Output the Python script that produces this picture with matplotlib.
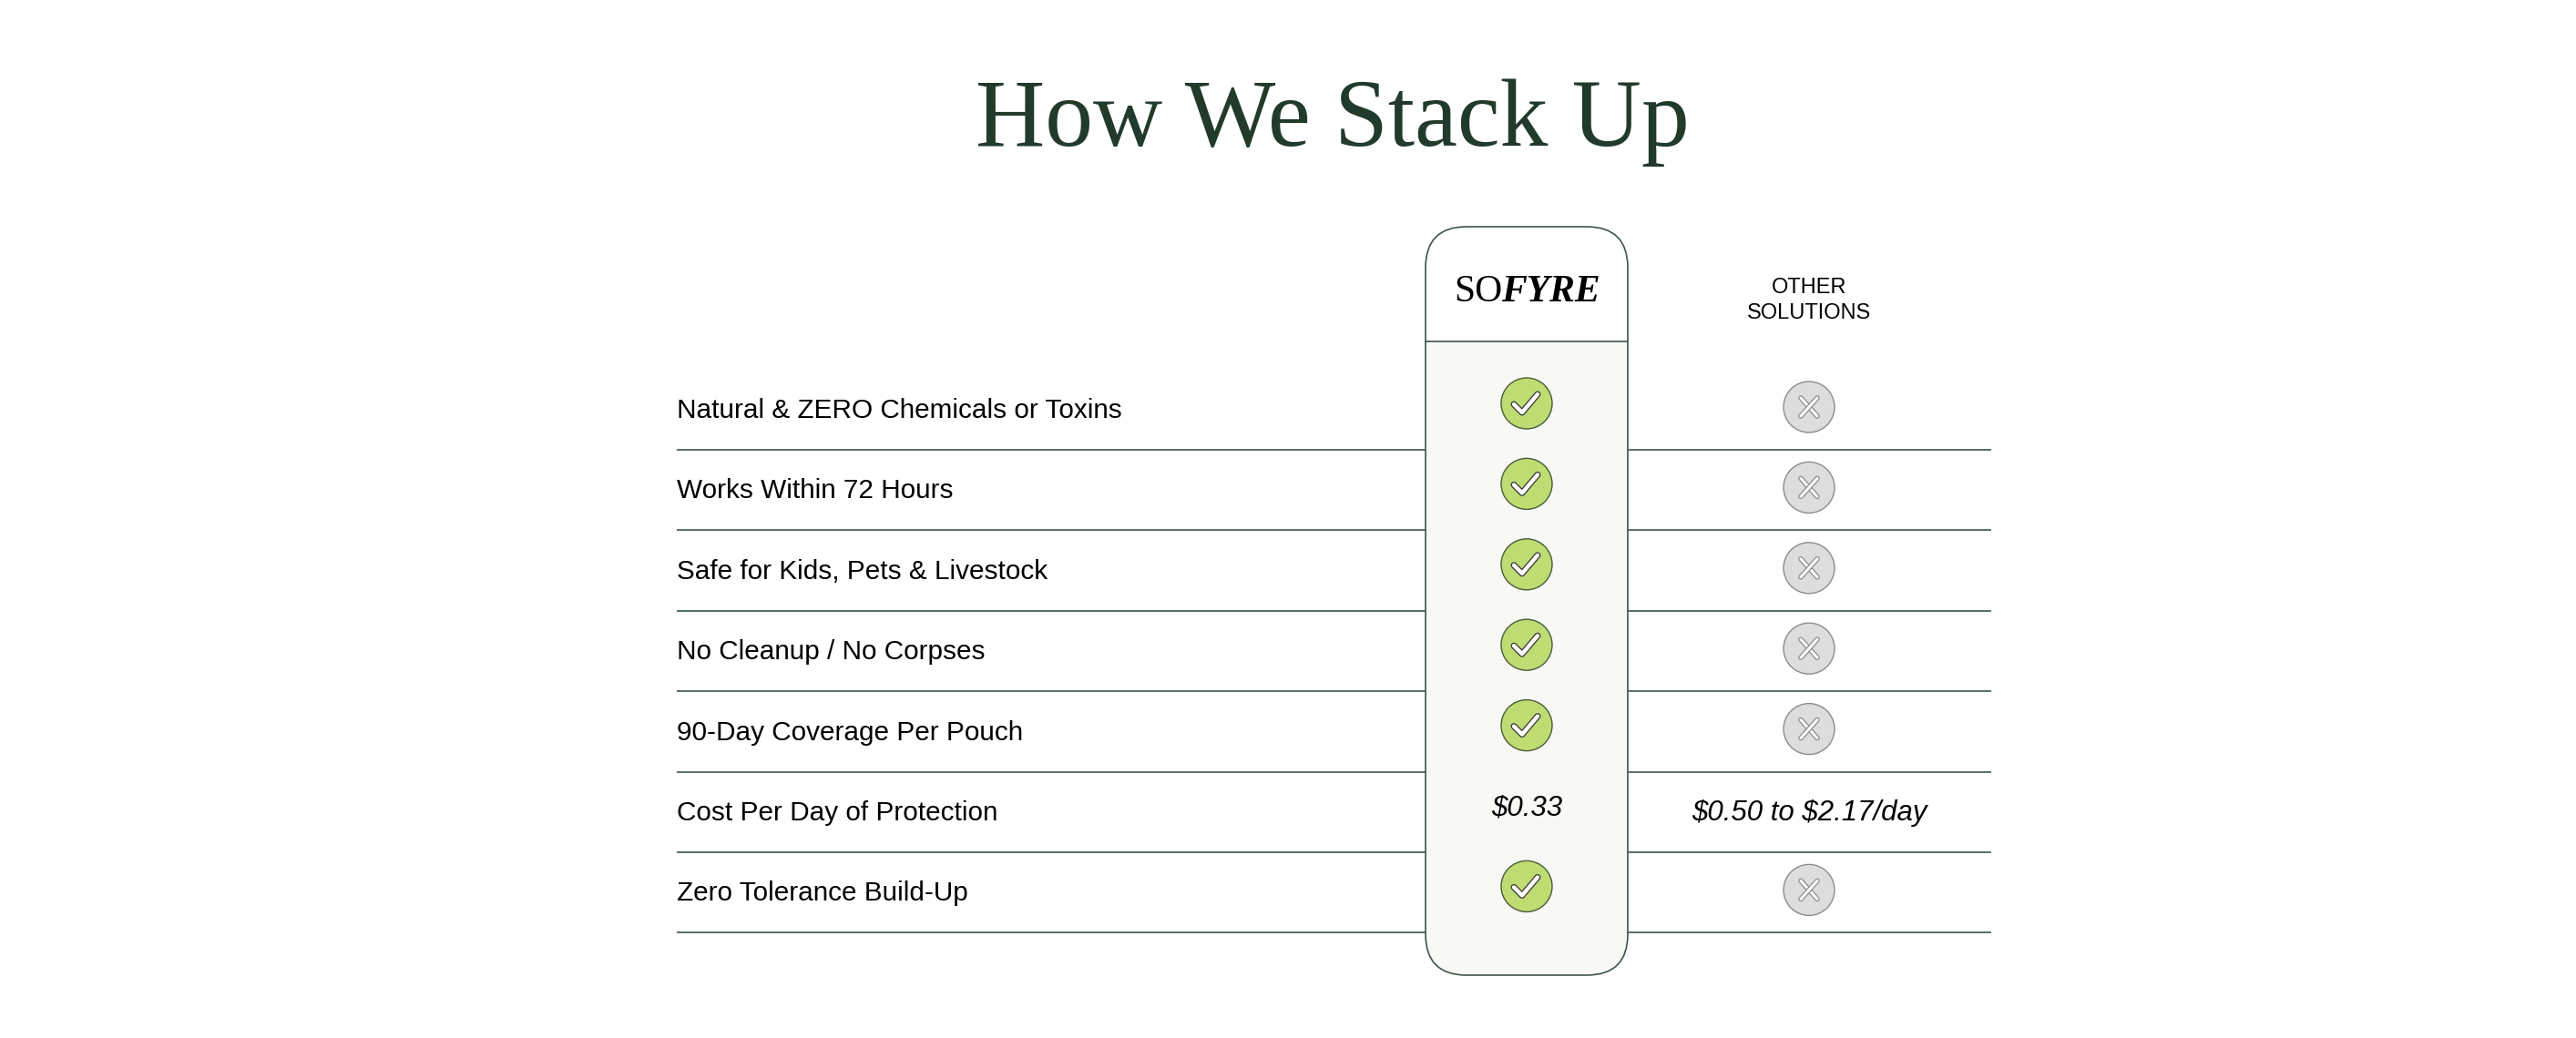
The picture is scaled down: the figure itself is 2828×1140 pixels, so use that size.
import matplotlib
matplotlib.use("Agg")
import matplotlib.pyplot as plt
from matplotlib.patches import FancyBboxPatch, Rectangle, Circle
import matplotlib.patheffects as pe

plt.rcParams["text.parse_math"] = False

# ---- data ----
title = "How We Stack Up"
features = [
    "Natural & ZERO Chemicals or Toxins",
    "Works Within 72 Hours",
    "Safe for Kids, Pets & Livestock",
    "No Cleanup / No Corpses",
    "90-Day Coverage Per Pouch",
    "Cost Per Day of Protection",
    "Zero Tolerance Build-Up",
]
sofyre_values = [True, True, True, True, True, "$0.33", True]
other_values = [False, False, False, False, False, "$0.50 to $2.17/day", False]
brand_plain = "SO"
brand_bold = "FYRE"
other_header = "OTHER\nSOLUTIONS"

# ---- style ----
W, H = 2828, 1140
DARK = "#223a2c"
LINE = "#3b564c"
GREEN = "#bedc72"
GRAY = "#dcdedb"
BODY = "#f8f9f5"

fig = plt.figure(figsize=(W / 100, H / 100), dpi=100)
ax = fig.add_axes([0, 0, 1, 1])
ax.set_xlim(0, W)
ax.set_ylim(H, 0)
ax.axis("off")

# title
ax.text(1463, 160, title, ha="center", va="baseline", fontsize=76,
        family="Liberation Serif", color=DARK)

# geometry
x_label = 743
x_end = 2186
box_l, box_r = 1565, 1787
box_top, box_bot = 249, 1071
header_y = 375
col1 = (box_l + box_r) / 2
col2 = 1986
row_h = 88.4
first_line = 494

# row lines
for i in range(len(features)):
    yl = first_line + i * row_h
    ax.plot([x_label, x_end], [yl, yl], color=LINE, lw=1.2, zorder=1,
            solid_capstyle="butt")

# sofyre column box
box = FancyBboxPatch((box_l, box_top), box_r - box_l, box_bot - box_top,
                     boxstyle="round,pad=0,rounding_size=45",
                     facecolor=BODY, edgecolor="none", zorder=2)
ax.add_patch(box)
hdr = Rectangle((box_l, box_top), box_r - box_l, header_y - box_top,
                facecolor="white", edgecolor="none", zorder=3)
ax.add_patch(hdr)
hdr.set_clip_path(box)
ax.plot([box_l, box_r], [header_y, header_y], color=LINE, lw=1.2, zorder=4)
outline = FancyBboxPatch((box_l, box_top), box_r - box_l, box_bot - box_top,
                         boxstyle="round,pad=0,rounding_size=45",
                         facecolor="none", edgecolor=LINE, lw=1.2, zorder=5)
ax.add_patch(outline)

# brand logo
t1 = ax.text(col1 - 80, 331, brand_plain, ha="left", va="baseline",
             fontsize=30, family="Liberation Serif", color="black", zorder=6)
fig.canvas.draw()
bb = t1.get_window_extent()
inv = ax.transData.inverted()
x_after = inv.transform((bb.x1, 0))[0]
ax.text(x_after - 1, 331, brand_bold, ha="left", va="baseline", fontsize=30,
        family="Liberation Serif", style="italic", weight="bold",
        color="black", zorder=6)

# other header
ax.text(col2, 330, other_header, ha="center", va="center", fontsize=17,
        family="Liberation Sans", color="black", linespacing=1.3)


def draw_check(x, y):
    ax.add_patch(Circle((x, y), 28, facecolor=GREEN, edgecolor="#4a5a3a",
                        lw=1.0, zorder=6))
    ax.plot([x - 14, x - 5, x + 12], [y + 1, y + 10, y - 10], color="white",
            lw=3.2, solid_capstyle="round", solid_joinstyle="round", zorder=7,
            path_effects=[pe.Stroke(linewidth=5.0, foreground="#333333"),
                          pe.Normal()])


def draw_x(x, y):
    ax.add_patch(Circle((x, y), 28, facecolor=GRAY, edgecolor="#8a8d8a",
                        lw=1.0, zorder=6))
    eff = [pe.Stroke(linewidth=4.0, foreground="#8a8d8a"), pe.Normal()]
    for dx in (1, -1):
        ax.plot([x - 9 * dx, x + 9 * dx], [y - 10, y + 10], color="white",
                lw=2.2, solid_capstyle="round", zorder=7, path_effects=eff)


for i, feat in enumerate(features):
    yl = first_line + i * row_h
    yc = yl - 43
    ax.text(x_label, yc, feat, ha="left", va="center", fontsize=21.4,
            family="Liberation Sans", color="black", zorder=6)
    v1 = sofyre_values[i]
    if isinstance(v1, str):
        ax.text(col1, yc - 6, v1, ha="center", va="center", fontsize=22.5,
                family="Liberation Sans", style="italic", color="black",
                zorder=6)
    elif v1:
        draw_check(col1, yc - 8)
    v2 = other_values[i]
    if isinstance(v2, str):
        ax.text(col2, yc, v2, ha="center", va="center", fontsize=22.5,
                family="Liberation Sans", style="italic", color="black",
                zorder=6)
    elif not v2:
        draw_x(col2, yc - 4)

fig.savefig("out.png", dpi=100, facecolor="white")
